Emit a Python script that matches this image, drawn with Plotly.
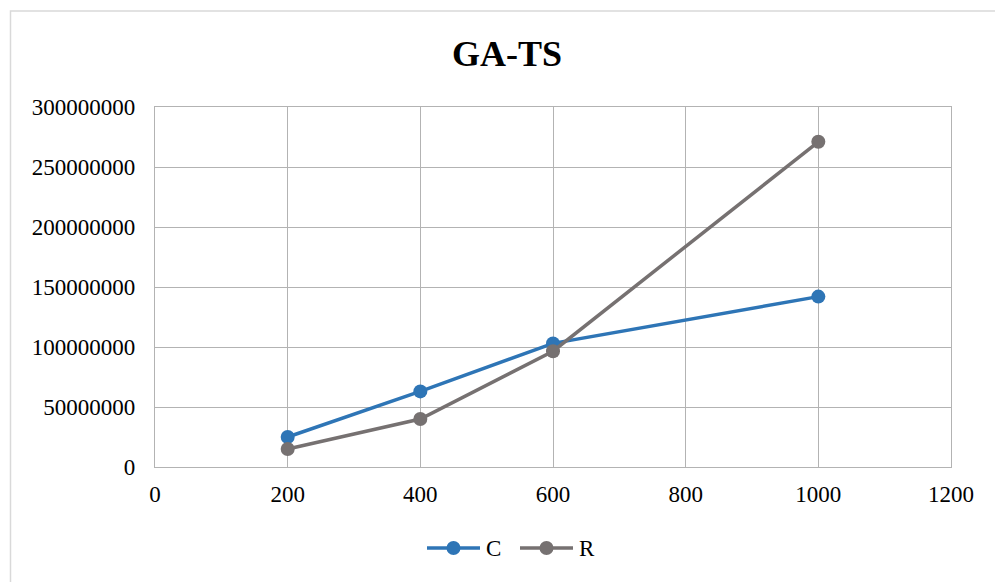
import plotly.graph_objects as go

x_vals = [200, 400, 600, 1000]
c_vals = [25000000, 63000000, 103000000, 142000000]
r_vals = [15000000, 40000000, 96500000, 271000000]
x_ticks = [0, 200, 400, 600, 800, 1000, 1200]
y_ticks = [0, 50000000, 100000000, 150000000, 200000000, 250000000, 300000000]
series_names = ["C", "R"]
series_colors = ["#2e75b6", "#767171"]

W, H = 995, 582
L, R, T, B = 155, 44, 107, 115
pw, ph = W - L - R, H - T - B

fig = go.Figure()
for name, vals, col in zip(series_names, [c_vals, r_vals], series_colors):
    fig.add_trace(go.Scatter(x=x_vals, y=vals, name=name, mode="lines+markers",
                             line=dict(color=col, width=3.5),
                             marker=dict(size=14, color=col)))

serif = "Liberation Serif, Times New Roman, serif"
font = dict(family=serif, size=23, color="#000000")
grid = "#b3b3b3"

def px2x(p):
    return (p - L) / pw

def px2y(p):
    return (H - B - p) / ph

fig.update_layout(
    width=W, height=H,
    margin=dict(l=L, r=R, t=T, b=B),
    paper_bgcolor="white", plot_bgcolor="white",
    title=dict(text="<b>GA-TS</b>", xref="container", x=507 / W, xanchor="center",
               yref="container", y=1 - 53 / H, yanchor="middle",
               font=dict(family=serif, size=36, color="#000000")),
    font=font,
    showlegend=False,
    xaxis=dict(range=[0, 1200], tickvals=x_ticks, ticktext=[str(v) for v in x_ticks],
               showgrid=True, gridcolor=grid, gridwidth=1.3,
               showline=True, linecolor=grid, linewidth=1.3, mirror=True,
               zeroline=False, ticks="", ticklen=0, tickfont=font, ticklabelstandoff=6),
    yaxis=dict(range=[0, 300000000], tickvals=y_ticks, ticktext=[str(v) for v in y_ticks],
               showgrid=True, gridcolor=grid, gridwidth=1.3,
               showline=True, linecolor=grid, linewidth=1.3, mirror=True,
               zeroline=False, ticks="", ticklen=0, tickfont=font, ticklabelstandoff=14),
)

# outer chart border (top and left visible)
fig.add_shape(type="path", xref="paper", yref="paper",
              path=f"M {px2x(10.5)} {px2y(600)} L {px2x(10.5)} {px2y(11)} L {px2x(1010)} {px2y(11)}",
              line=dict(color="#d9d9d9", width=1.5), layer="below")

# legend drawn as in the reference (long line segments with centred marker)
leg_y = px2y(548)
leg_starts = [427, 520]
for name, col, x0 in zip(series_names, series_colors, leg_starts):
    fig.add_shape(type="line", xref="paper", yref="paper",
                  x0=px2x(x0), x1=px2x(x0 + 53), y0=leg_y, y1=leg_y,
                  line=dict(color=col, width=3.5))
    cx, cy = x0 + 26.5, 548
    fig.add_shape(type="circle", xref="paper", yref="paper",
                  x0=px2x(cx - 7), x1=px2x(cx + 7), y0=px2y(cy + 7), y1=px2y(cy - 7),
                  fillcolor=col, line=dict(color=col, width=0))
    fig.add_annotation(text=name, xref="paper", yref="paper", x=px2x(x0 + 57), y=leg_y,
                       xanchor="left", yanchor="middle", showarrow=False, font=font)

fig.write_html("out.html")
